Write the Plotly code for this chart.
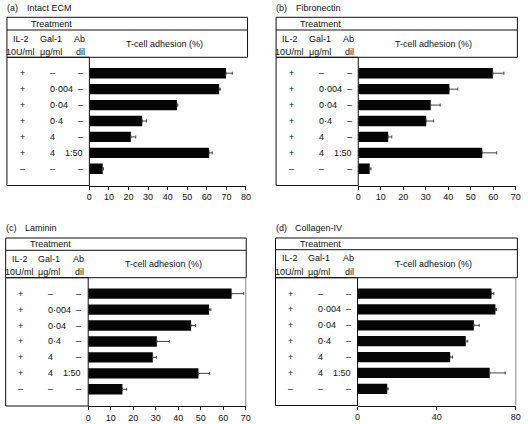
import plotly.graph_objects as go

W, H = 528, 424

# ---- data ----
il2 = ["+", "+", "+", "+", "+", "+", "–"]
gal1 = ["–", "0·004", "0·04", "0·4", "4", "4", "–"]
ab_dil = ["–", "–", "–", "–", "–", "1:50", "–"]
rows = [f"{a} | {b} | {c}" for a, b, c in zip(il2, gal1, ab_dil)]

panel_letters = ["(a)", "(b)", "(c)", "(d)"]
panel_names = ["Intact ECM", "Fibronectin", "Laminin", "Collagen-IV"]

adh_a = [69.8, 66.3, 44.8, 27.0, 21.2, 61.2, 6.8]
err_a = [3.2, 0.6, 0.4, 2.2, 2.5, 1.6, 0.4]
adh_b = [59.8, 40.5, 32.2, 30.2, 13.3, 55.1, 5.1]
err_b = [4.9, 3.7, 4.2, 3.3, 1.6, 6.4, 0.6]
adh_c = [63.7, 53.7, 45.7, 30.5, 28.7, 49.0, 15.2]
err_c = [5.4, 0.8, 2.0, 5.5, 1.6, 5.0, 1.9]
adh_d = [67.7, 69.7, 58.8, 54.7, 46.8, 66.8, 15.0]
err_d = [1.2, 0.5, 2.7, 1.0, 1.2, 7.8, 0.5]

x_max = [80, 70, 70, 80]
x_ticks = [list(range(0, 81, 10)), list(range(0, 71, 10)), list(range(0, 71, 10)), [0, 40, 80]]

values = [adh_a, adh_b, adh_c, adh_d]
errors = [err_a, err_b, err_c, err_d]

# ---- geometry (pixels) ----
geo = [
    dict(box_l=4, box_r=248.3, top=17.3, treat=30, head=57.3, left_r=87.7, bottom=185.5, axis_r=246.7, title_y=7.5, right_border=False),
    dict(box_l=277.3, box_r=522.3, top=17.3, treat=30, head=57.3, left_r=360.7, bottom=185.5, axis_r=520.7, title_y=7.5, right_border=False),
    dict(box_l=2.7, box_r=247, top=238, treat=250.3, head=277.7, left_r=86.5, bottom=406, axis_r=246.5, title_y=227.5, right_border=True),
    dict(box_l=276.7, box_r=522.3, top=238, treat=249.7, head=277.7, left_r=360, bottom=405.5, axis_r=520.7, title_y=227.5, right_border=True),
]

FONT = "Liberation Sans, Arial, Helvetica, sans-serif"
TXT = "#111111"


def fx(px):
    return px / W


def fy(py):
    return 1 - py / H


fig = go.Figure()
shapes = []
annotations = []
layout_axes = {}

for i in range(4):
    g = geo[i]
    sfx = "" if i == 0 else str(i + 1)
    xa, ya = "x" + sfx, "y" + sfx
    fig.add_trace(go.Bar(
        x=values[i], y=rows, orientation="h",
        marker=dict(color="#050505", line=dict(width=0)),
        width=0.65,
        error_x=dict(type="data", symmetric=False, array=errors[i],
                     arrayminus=[0] * len(errors[i]),
                     color="#444444", thickness=1, width=1.5),
        xaxis=xa, yaxis=ya, showlegend=False, hoverinfo="skip",
    ))
    layout_axes["xaxis" + sfx] = dict(
        domain=[fx(g["left_r"]), fx(g["axis_r"])],
        anchor=ya, range=[0, x_max[i]], tickvals=x_ticks[i],
        ticks="outside", ticklen=3, tickwidth=1, tickcolor="#222",
        showline=True, linecolor="#111", linewidth=1,
        showgrid=False, zeroline=False,
        tickfont=dict(family=FONT, size=9, color=TXT), fixedrange=True,
    )
    layout_axes["yaxis" + sfx] = dict(
        domain=[fy(g["bottom"]), fy(g["head"])],
        anchor=xa, type="category", categoryorder="array", categoryarray=rows,
        range=[7.05, -1.0], showticklabels=False, ticks="",
        showline=False, showgrid=False, zeroline=False, fixedrange=True,
    )

    line = dict(color="#111111", width=1)
    # header box
    shapes.append(dict(type="rect", xref="paper", yref="paper",
                       x0=fx(g["box_l"]), x1=fx(g["box_r"]), y0=fy(g["head"]), y1=fy(g["top"]), line=line))
    shapes.append(dict(type="line", xref="paper", yref="paper",
                       x0=fx(g["box_l"]), x1=fx(g["box_r"]), y0=fy(g["treat"]), y1=fy(g["treat"]), line=line))
    # left treatment box
    shapes.append(dict(type="rect", xref="paper", yref="paper",
                       x0=fx(g["box_l"]), x1=fx(g["left_r"]), y0=fy(g["bottom"]), y1=fy(g["head"]), line=line))
    if g["right_border"]:
        shapes.append(dict(type="line", xref="paper", yref="paper",
                           x0=fx(g["axis_r"]), x1=fx(g["axis_r"]), y0=fy(g["bottom"]), y1=fy(g["head"]),
                           line=dict(color="#888888", width=1)))

    def ann(text, x, y, xanchor="center", yref="paper", size=9):
        annotations.append(dict(text=text, x=x, y=y, xref="paper", yref=yref,
                                xanchor=xanchor, yanchor="middle", showarrow=False,
                                font=dict(family=FONT, size=size, color=TXT), borderpad=0))

    bl = g["box_l"]
    # title
    ann(panel_letters[i], fx(bl - 1), fy(g["title_y"]), "left")
    ann(panel_names[i], fx(bl + 19), fy(g["title_y"]), "left")
    # header
    ann("Treatment", fx(bl + 45.5), fy((g["top"] + g["treat"]) / 2))
    r1 = g["treat"] + 8.5
    r2 = g["treat"] + 22
    ann("IL-2", fx(bl + 14.5), fy(r1))
    ann("10U/ml", fx(bl + 14), fy(r2))
    ann("Gal-1", fx(bl + 44.5), fy(r1))
    ann("μg/ml", fx(bl + 44.5), fy(r2))
    ann("Ab", fx(bl + 74), fy(r1))
    ann("dil", fx(bl + 75), fy(r2))
    ann("T-cell adhesion (%)", fx(bl + 160), fy((g["treat"] + g["head"]) / 2))
    # row labels placed on the panel's category axis
    for k, r in enumerate(rows):
        ann(il2[k], fx(bl + 15.5), r, "center", yref=ya)
        ann(gal1[k], fx(bl + 42.3), r, "left", yref=ya)
        ann(ab_dil[k], fx(bl + 78), r, "right", yref=ya)

fig.update_layout(
    width=W, height=H,
    margin=dict(l=0, r=0, t=0, b=0),
    paper_bgcolor="white", plot_bgcolor="rgba(0,0,0,0)",
    bargap=0.35,
    shapes=shapes, annotations=annotations,
    **layout_axes,
)

fig.write_html("out.html",
               config={"displayModeBar": False},
               post_script="document.body.style.margin='0';document.body.style.padding='0';"
                           "document.body.style.overflow='hidden';")
